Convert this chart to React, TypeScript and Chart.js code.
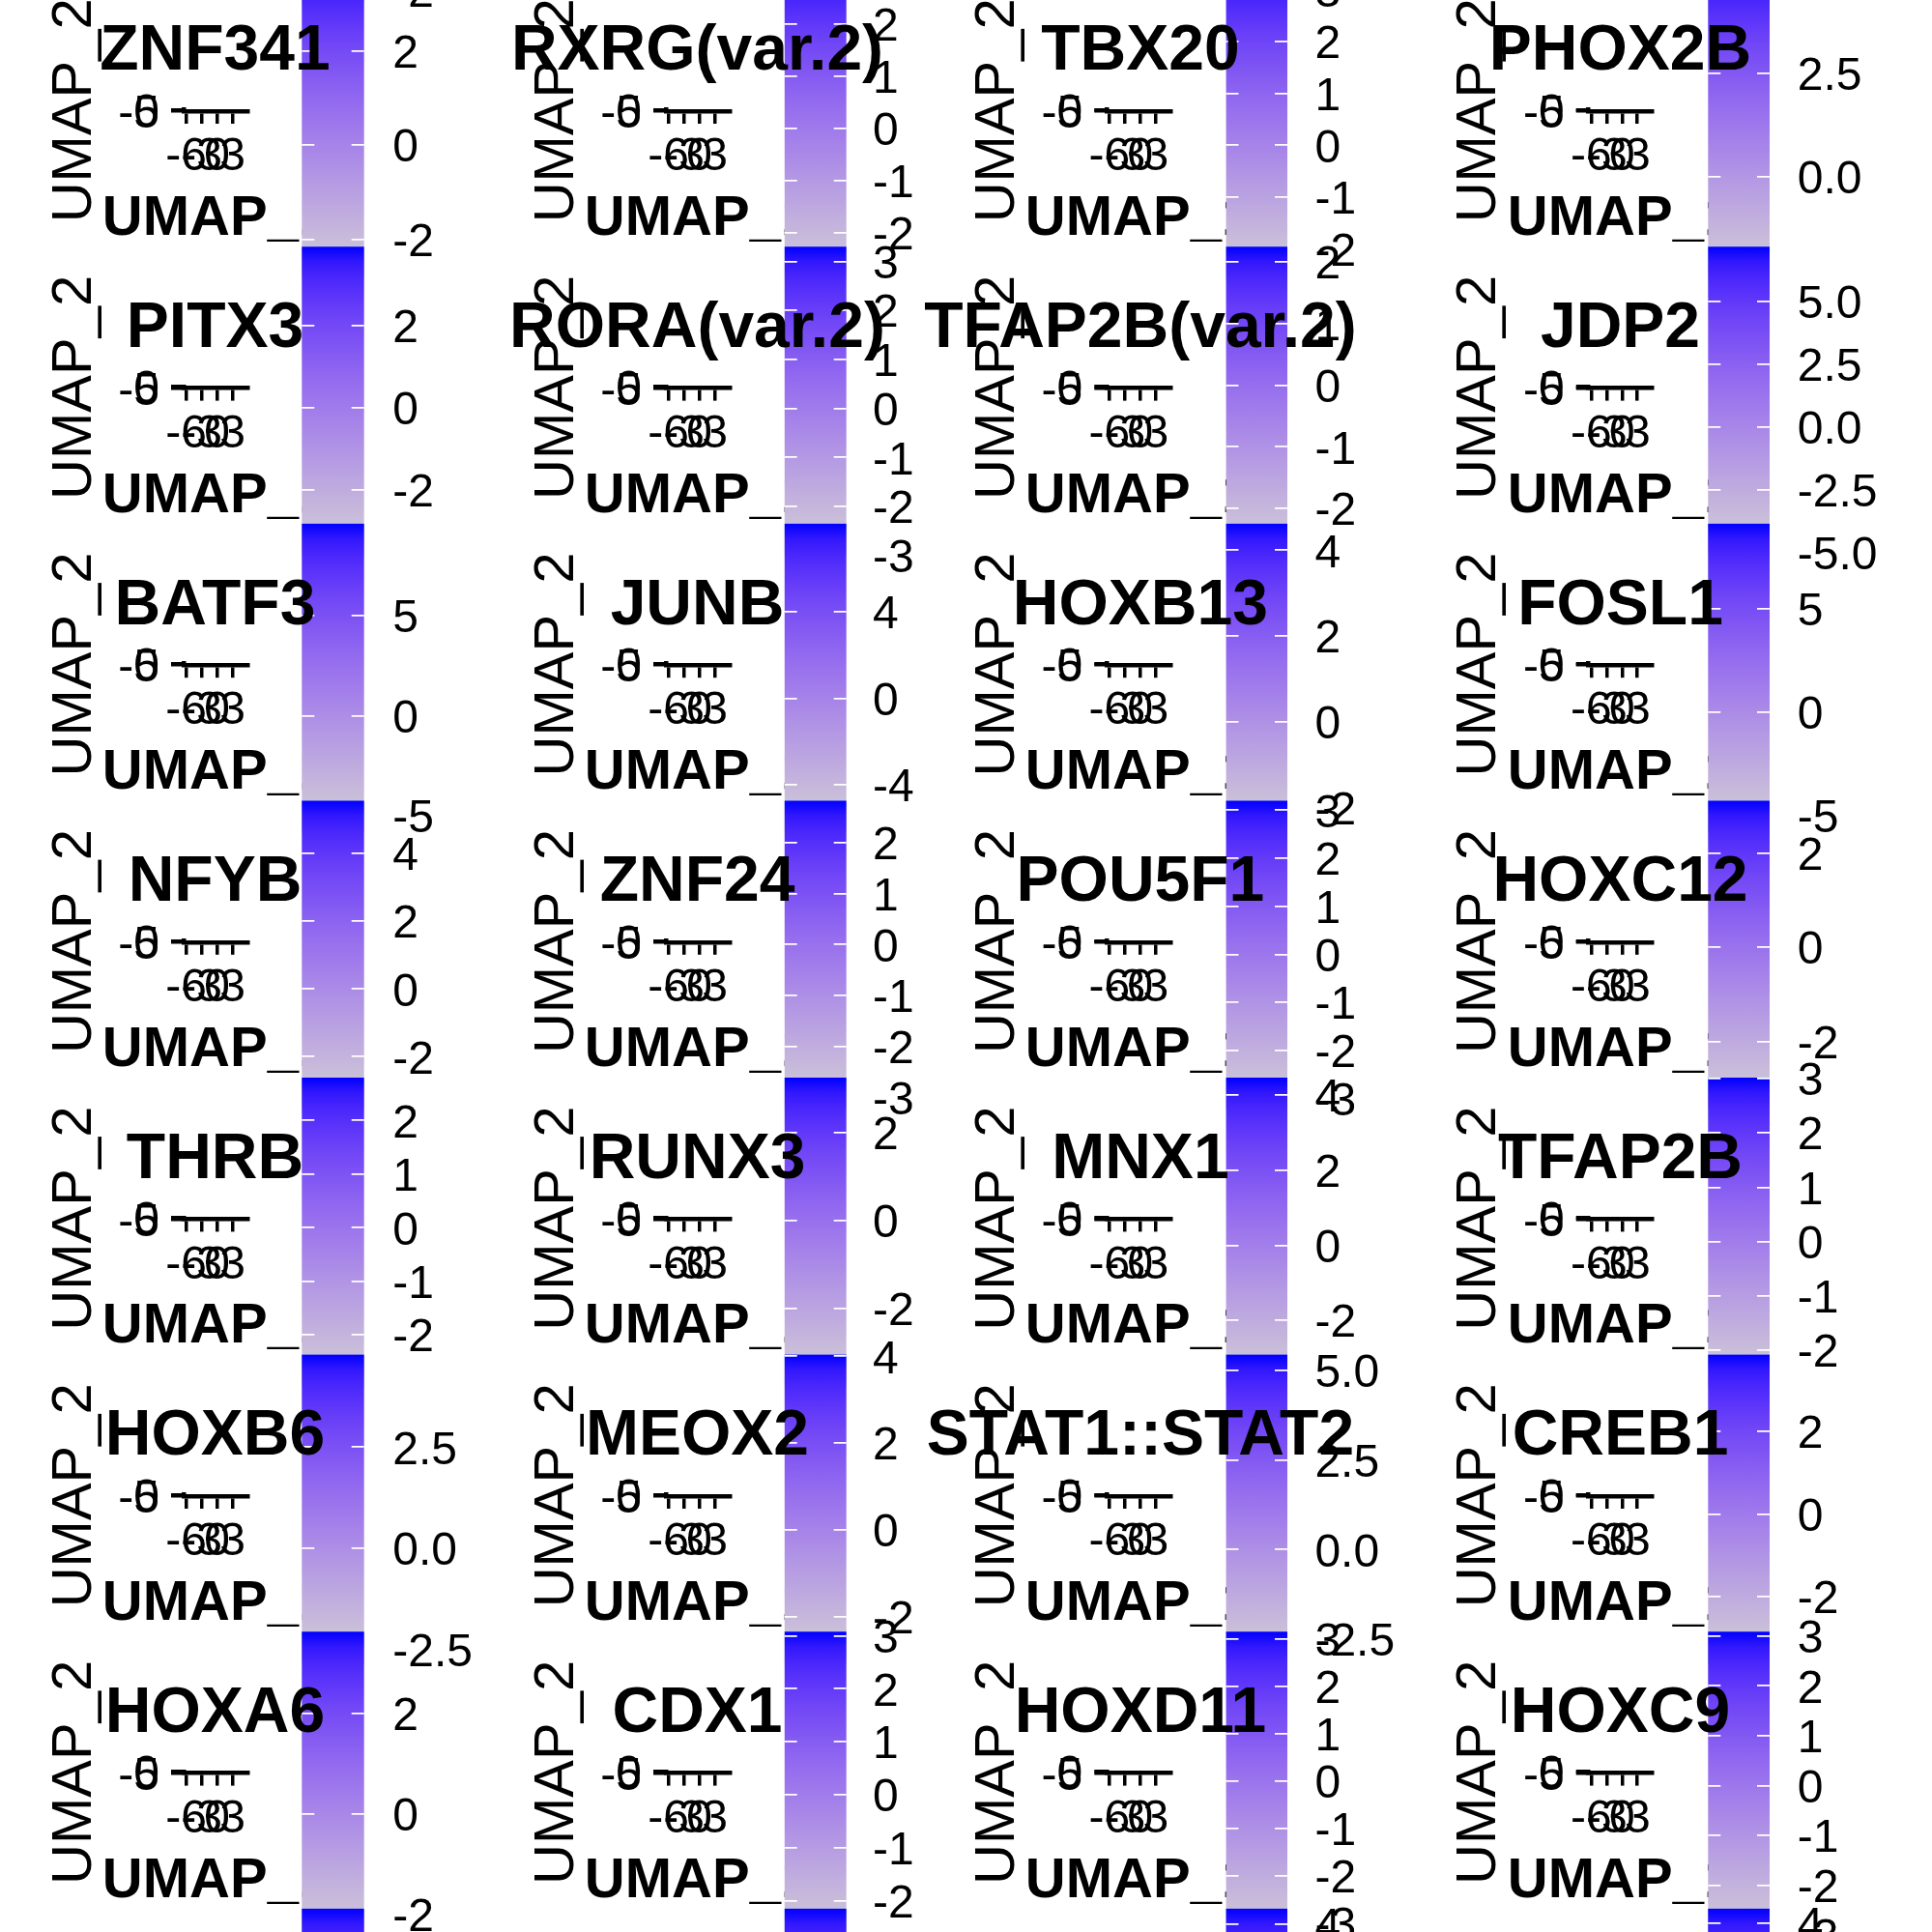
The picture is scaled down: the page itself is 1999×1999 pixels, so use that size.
import React, { useEffect, useMemo, useRef } from "react";
import { Chart, registerables } from "chart.js";

Chart.register(...registerables);

const FONT = "'Liberation Sans', Arial, Helvetica, sans-serif";

// ---------------- data ----------------
// panel titles, row by row (4 columns)
const panelTitles: string[][] = [
  ["ZNF341", "RXRG(var.2)", "TBX20", "PHOX2B"],
  ["PITX3", "RORA(var.2)", "TFAP2B(var.2)", "JDP2"],
  ["BATF3", "JUNB", "HOXB13", "FOSL1"],
  ["NFYB", "ZNF24", "POU5F1", "HOXC12"],
  ["THRB", "RUNX3", "MNX1", "TFAP2B"],
  ["HOXB6", "MEOX2", "STAT1::STAT2", "CREB1"],
  ["HOXA6", "CDX1", "HOXD11", "HOXC9"],
];

// colour-bar limits (score range) of every panel
const scoreMin: number[][] = [
  [-2.84, -2.89, -2.58, -2.48],
  [-3.62, -3.01, -2.77, -5.12],
  [-5.88, -6.25, -2.59, -5.85],
  [-3.57, -3.24, -3.24, -3.45],
  [-2.97, -3.8, -3.77, -2.68],
  [-2.86, -3.09, -3.19, -3.63],
  [-2.53, -2.76, -3.37, -3.12],
];
const scoreMax: number[][] = [
  [3.72, 3.04, 3.39, 5.01],
  [3.93, 3.3, 2.25, 7.19],
  [9.62, 8.1, 4.62, 9.1],
  [5.56, 2.82, 3.2, 3.11],
  [2.8, 3.26, 4.46, 3.02],
  [4.79, 4.04, 5.44, 3.86],
  [3.62, 3.08, 3.16, 3.09],
];
// colour-bar tick labels of every panel
const scoreTicks: number[][][] = [
  [[-2, 0, 2], [-2, -1, 0, 1, 2], [-2, -1, 0, 1, 2, 3], [0, 2.5]],
  [[-2, 0, 2], [-3, -2, -1, 0, 1, 2, 3], [-2, -1, 0, 1, 2], [-5, -2.5, 0, 2.5, 5]],
  [[-5, 0, 5], [-4, 0, 4], [-2, 0, 2, 4], [-5, 0, 5]],
  [[-2, 0, 2, 4], [-3, -2, -1, 0, 1, 2], [-3, -2, -1, 0, 1, 2, 3], [-2, 0, 2]],
  [[-2, -1, 0, 1, 2], [-2, 0, 2], [-2, 0, 2, 4], [-2, -1, 0, 1, 2, 3]],
  [[-2.5, 0, 2.5], [-2, 0, 2, 4], [-2.5, 0, 2.5, 5], [-2, 0, 2]],
  [[-2, 0, 2], [-2, -1, 0, 1, 2, 3], [-3, -2, -1, 0, 1, 2, 3], [-3, -2, -1, 0, 1, 2, 3]],
];

// panels cut by the figure edges: only parts of their colour bars are visible
const edgeTopMin = [-2.24]; // column 1 only
const edgeTopMax = [4.16];
const edgeTopTicks = [[-2]];
const edgeBottomMin = [-3.0, -3.0, -2.75, -2.78];
const edgeBottomMax = [3.4, 3.4, 4.36, 4.33];
const edgeBottomTicks: number[][] = [[], [], [4], [4]];

// UMAP axes (collapsed panels)
const umapXTicks = [-6, -3, 0, 3];
const umapYTicks = [-5, 0];
const umapXLimits = [-6.5, 6.0];
const umapYLimits = [-5.5, 0.5];

// ---------------- layout ----------------
const ROW = 286.6;
const BAR_TOP0 = -31.4;
const BAR_LEN = 320;
const colPlot = [0, 499, 955.3, 1453.7];
const colBarLeft = [312.3, 811.7, 1268.5, 1767.3];
const colBarWidth = [64.4, 64, 63.5, 63.7];
const colLabelLeft = [406.3, 903, 1360.4, 1859.7];
const colTitleCenter = [222.5, 721.5, 1179.9, 1676.5];

const TICK_FONT = { family: FONT, size: 48, lineHeight: 1.2 };
const AXIS_FONT = { family: FONT, size: 58, lineHeight: 1.2 };
const TITLE_FONT = { family: FONT, size: 66, weight: "bold" as const, lineHeight: 1.2 };
// vertical correction of canvas 'middle' text baseline
const TICK_SHIFT = 4;
const AXIS_SHIFT = 4.5;
const TITLE_SHIFT = 5;

// ---------------- colours (ggplot lightgrey -> blue, Lab interpolation) ----------------
function toLin(c: number) {
  c /= 255;
  return c <= 0.04045 ? c / 12.92 : Math.pow((c + 0.055) / 1.055, 2.4);
}
function toSrgb(c: number) {
  const v = c <= 0.0031308 ? 12.92 * c : 1.055 * Math.pow(c, 1 / 2.4) - 0.055;
  return Math.round(Math.max(0, Math.min(1, v)) * 255);
}
const XN = 0.95047, YN = 1, ZN = 1.08883;
function rgb2lab(r: number, g: number, b: number) {
  const R = toLin(r), G = toLin(g), B = toLin(b);
  const X = 0.4124 * R + 0.3576 * G + 0.1805 * B;
  const Y = 0.2126 * R + 0.7152 * G + 0.0722 * B;
  const Z = 0.0193 * R + 0.1192 * G + 0.9505 * B;
  const f = (t: number) => (t > 0.008856 ? Math.cbrt(t) : 7.787 * t + 16 / 116);
  const fx = f(X / XN), fy = f(Y / YN), fz = f(Z / ZN);
  return [116 * fy - 16, 500 * (fx - fy), 200 * (fy - fz)];
}
function lab2rgb(L: number, a: number, b: number) {
  const fy = (L + 16) / 116, fx = fy + a / 500, fz = fy - b / 200;
  const inv = (t: number) => (t * t * t > 0.008856 ? t * t * t : (t - 16 / 116) / 7.787);
  const X = XN * inv(fx), Y = YN * inv(fy), Z = ZN * inv(fz);
  const R = 3.2406 * X - 1.5372 * Y - 0.4986 * Z;
  const G = -0.9689 * X + 1.8758 * Y + 0.0415 * Z;
  const B = 0.0557 * X - 0.204 * Y + 1.057 * Z;
  return `rgb(${toSrgb(R)},${toSrgb(G)},${toSrgb(B)})`;
}
const LOW = rgb2lab(211, 211, 211);
const HIGH = rgb2lab(0, 0, 255);
const STOPS: string[] = [];
for (let i = 0; i <= 20; i++) {
  const t = i / 20;
  STOPS.push(lab2rgb(LOW[0] + (HIGH[0] - LOW[0]) * t, LOW[1] + (HIGH[1] - LOW[1]) * t, LOW[2] + (HIGH[2] - LOW[2]) * t));
}

function barGradient(ctx: any) {
  const chart = ctx.chart;
  const area = chart.chartArea;
  if (!area) return STOPS[10];
  const g = chart.ctx.createLinearGradient(0, area.bottom, 0, area.top);
  STOPS.forEach((s, i) => g.addColorStop(i / 20, s));
  return g;
}

function fmt(v: number, dec: boolean) {
  return dec ? v.toFixed(1) : String(v);
}

// ---------------- chart specs ----------------
type Spec = { left: number; top: number; w: number; h: number; make: (cv: HTMLCanvasElement) => Chart };

const BASE = { animation: false as const, responsive: false, devicePixelRatio: 1, events: [] as any[] };

function umapSpec(r: number, c: number): Spec {
  const X0 = colPlot[c], Y0 = r * ROW;
  const left = Math.round(X0), top = Math.round(Y0 - 20);
  const W = 447, H = 300;
  const ox = X0 - left, oy = Y0 - top;
  const caL = 190 + ox, caR = 256.5 + ox, caT = 113.5 + oy, caB = 115 + oy;
  const titleMid = 222.4 + oy + AXIS_SHIFT;
  const titleTop = titleMid - 34.8, titleBot = titleMid + 34.8;
  const xH = titleTop - caB;
  const padB = H - titleBot;
  const xTickPad = 159 + oy - caB - 13 - 28.8 + TICK_SHIFT;
  const yTitlePad = 73.2 + ox - 34.8 + AXIS_SHIFT;
  const tickGrid = {
    display: true, drawOnChartArea: false, drawTicks: true, tickLength: 13,
    tickWidth: 3.5, tickColor: "#000", lineWidth: 3.5, color: "#000",
  };
  const border = { display: true, width: 4.5, color: "#000" };
  return {
    left, top, w: W, h: H,
    make: (cv) =>
      new Chart(cv, {
        type: "scatter",
        data: { datasets: [{ data: [], pointRadius: 0 }] },
        options: {
          ...BASE,
          layout: { padding: { left: 0, right: 0, top: caT, bottom: padB } },
          plugins: {
            legend: { display: false },
            tooltip: { enabled: false },
            title: {
              display: true, position: "bottom", align: "center", text: "UMAP_1", color: "#000",
              font: AXIS_FONT, padding: 0,
            },
          },
          scales: {
            x: {
              type: "linear", position: "bottom", min: umapXLimits[0], max: umapXLimits[1],
              afterBuildTicks: (s: any) => { s.ticks = umapXTicks.map((v) => ({ value: v })); },
              afterFit: (s: any) => { s.height = xH; },
              ticks: {
                autoSkip: false, maxRotation: 0, minRotation: 0, padding: xTickPad, color: "#000",
                font: TICK_FONT, callback: (v: any) => String(v),
              },
              grid: tickGrid, border,
            },
            y: {
              type: "linear", position: "left", min: umapYLimits[0], max: umapYLimits[1],
              afterBuildTicks: (s: any) => { s.ticks = umapYTicks.map((v) => ({ value: v })); },
              afterFit: (s: any) => { s.width = caL; },
              ticks: {
                autoSkip: false, padding: 12, labelOffset: TICK_SHIFT, color: "#000",
                font: TICK_FONT, callback: (v: any) => String(v),
              },
              grid: tickGrid, border,
              title: { display: true, text: "UMAP_2", color: "#000", font: AXIS_FONT, padding: { top: yTitlePad, bottom: 0 } },
            },
            y2: {
              type: "linear", position: "right", display: true,
              ticks: { display: false }, grid: { display: false }, border: { display: false },
              afterFit: (s: any) => { s.width = W - caR; },
            },
          },
        } as any,
      }),
  };
}

function barSpec(r: number, c: number, mn: number, mx: number, ticks: number[]): Spec {
  const BL = colBarLeft[c], BW = colBarWidth[c], BT = BAR_TOP0 + r * ROW;
  const left = Math.floor(BL), top = Math.floor(BT - 70);
  const W = 200, H = 460;
  const padL = BL - left;
  const caR = padL + BW;
  const padT = BT - top;
  const padB = H - padT - BAR_LEN;
  const lp = colLabelLeft[c] - (BL + BW);
  const dec = ticks.some((v) => !Number.isInteger(v));
  return {
    left, top, w: W, h: H,
    make: (cv) =>
      new Chart(cv, {
        type: "bar",
        data: {
          labels: [""],
          datasets: [{
            data: [[mn, mx]], backgroundColor: barGradient, borderWidth: 0,
            barPercentage: 1, categoryPercentage: 1,
          }],
        },
        options: {
          ...BASE,
          layout: { padding: { left: padL, right: 0, top: padT, bottom: padB } },
          plugins: { legend: { display: false }, tooltip: { enabled: false }, title: { display: false } },
          scales: {
            x: { display: false },
            y: {
              type: "linear", position: "right", min: mn, max: mx,
              afterBuildTicks: (s: any) => { s.ticks = ticks.map((v) => ({ value: v })); },
              afterFit: (s: any) => { s.width = W - caR; },
              ticks: {
                autoSkip: false, padding: lp, labelOffset: TICK_SHIFT, color: "#000",
                font: TICK_FONT, callback: (v: any) => fmt(Number(v), dec),
              },
              grid: { display: true, drawOnChartArea: true, drawTicks: false, color: "#ffffff", lineWidth: 1.8, z: 1 },
              border: { display: false, dash: [13, BW - 26] },
            },
          },
        } as any,
      }),
  };
}

function titleSpec(r: number, c: number): Spec {
  const CX = colTitleCenter[c], MY = r * ROW + 49.1 + TITLE_SHIFT;
  const W = 520, H = 150;
  const left = Math.round(CX - W / 2), top = Math.round(MY - 60);
  const d = CX - left - W / 2;
  const pl = d > 0 ? 2 * d : 0, pr = d < 0 ? -2 * d : 0;
  const tp = MY - top - 39.6;
  return {
    left, top, w: W, h: H,
    make: (cv) =>
      new Chart(cv, {
        type: "scatter",
        data: { datasets: [] },
        options: {
          ...BASE,
          layout: { padding: { left: pl, right: pr, top: 0, bottom: 0 } },
          scales: { x: { display: false }, y: { display: false } },
          plugins: {
            legend: { display: false },
            tooltip: { enabled: false },
            title: {
              display: true, position: "top", align: "center", text: panelTitles[r][c], color: "#000",
              font: TITLE_FONT, padding: { top: tp, bottom: 0 },
            },
          },
        } as any,
      }),
  };
}

function buildSpecs(): Spec[] {
  const specs: Spec[] = [];
  const nRows = panelTitles.length;
  for (let r = 0; r < nRows; r++) for (let c = 0; c < 4; c++) specs.push(umapSpec(r, c));
  // colour bars in row order (later rows cover the overflow of earlier ones)
  edgeTopMin.forEach((mn, c) => specs.push(barSpec(-1, c, mn, edgeTopMax[c], edgeTopTicks[c])));
  for (let r = 0; r < nRows; r++)
    for (let c = 0; c < 4; c++) specs.push(barSpec(r, c, scoreMin[r][c], scoreMax[r][c], scoreTicks[r][c]));
  edgeBottomMin.forEach((mn, c) => specs.push(barSpec(nRows, c, mn, edgeBottomMax[c], edgeBottomTicks[c])));
  for (let r = 0; r < nRows; r++) for (let c = 0; c < 4; c++) specs.push(titleSpec(r, c));
  return specs;
}

export default function App() {
  const specs = useMemo(buildSpecs, []);
  const refs = useRef<(HTMLCanvasElement | null)[]>([]);
  useEffect(() => {
    const charts = specs.map((s, i) => s.make(refs.current[i] as HTMLCanvasElement));
    return () => charts.forEach((ch) => ch.destroy());
  }, [specs]);
  return (
    <div style={{ position: "fixed", left: 0, top: 0, width: 1999, height: 1999, overflow: "hidden", background: "#ffffff" }}>
      {specs.map((s, i) => (
        <canvas
          key={i}
          ref={(el) => { refs.current[i] = el; }}
          width={s.w}
          height={s.h}
          style={{ position: "absolute", left: s.left, top: s.top, width: s.w, height: s.h }}
        />
      ))}
    </div>
  );
}
